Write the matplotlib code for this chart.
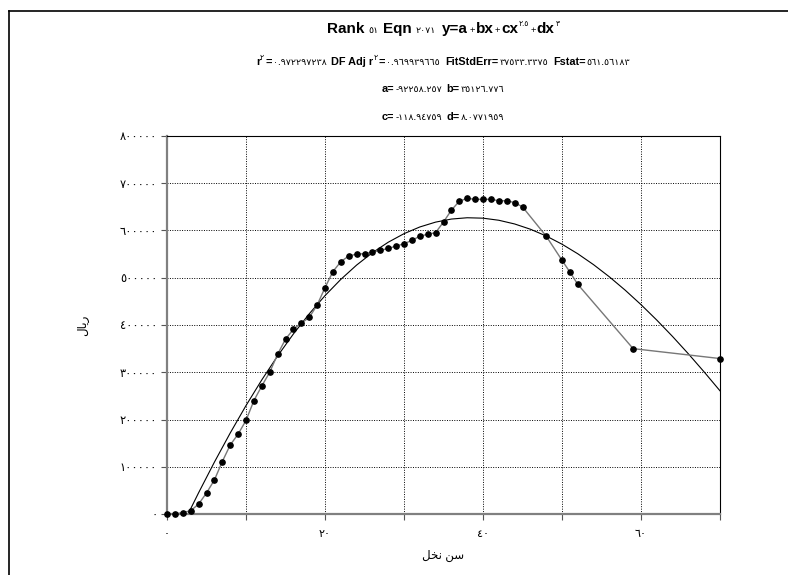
'''Rank 51 curve fit chart: date palm age vs price'''
import matplotlib
matplotlib.use('Agg')
from matplotlib import pyplot as plt
from matplotlib.lines import Line2D

# observed points (age, price)
ages = [0, 1, 2, 3, 4, 5, 6, 7, 8, 9, 10, 11, 12, 13, 14, 15, 16, 17, 18, 19,
        20, 21, 22, 23, 24, 25, 26, 27, 28, 29, 30, 31, 32, 33, 34, 35, 36, 37,
        38, 39, 40, 41, 42, 43, 44, 45, 48, 50, 51, 52, 59, 70]
prices = [0, 0, 3000, 7000, 21000, 44500, 72000, 111000, 146000, 169000,
          198000, 240000, 271000, 300000, 338000, 370000, 391000, 404000,
          416000, 442000, 479000, 513000, 534000, 546000, 550000, 551000,
          554000, 558000, 562000, 567000, 572000, 579000, 588000, 592000,
          595500, 618000, 643000, 662000, 668000, 666000, 666000, 666000,
          663000, 663000, 659000, 650000, 588000, 537000, 512000, 486000,
          350000, 329000]

# fitted curve
fit_ages = [2, 4, 6, 8, 10, 12, 14, 16, 18, 20, 22, 24, 26, 28, 30, 32, 34,
            36, 38, 40, 42, 44, 46, 48, 50, 52, 54, 56, 58, 60, 62, 64, 66,
            68, 70]
fit_prices = [-22600, 44959, 109758, 171359, 229472, 283886, 334448, 381052,
              423624, 462117, 496502, 526796, 552999, 575148, 593276, 607457,
              617740, 624221, 626974, 626088, 621680, 613843, 602712, 588388,
              571010, 550719, 527625, 501901, 473676, 443111, 410354, 375602,
              338950, 300540, 260685]

x_ticks = [0, 10, 20, 30, 40, 50, 60, 70]
x_labels = ['٠', '', '٢٠', '', '٤٠', '', '٦٠', '']
y_ticks = [0, 100000, 200000, 300000, 400000, 500000, 600000, 700000, 800000]
y_labels = ['٠', '١٠٠٠٠٠', '٢٠٠٠٠٠', '٣٠٠٠٠٠', '٤٠٠٠٠٠', '٥٠٠٠٠٠',
            '٦٠٠٠٠٠', '٧٠٠٠٠٠', '٨٠٠٠٠٠']

# Arabic words in visual order with presentation forms (no shaping in mpl)
x_title = '\uFEDE\uFEA8\uFEE7 \uFEE6\uFEB3'   # سن نخل
y_title = '\uFEDD\uFE8E\uFEF3\uFEAD'          # ريال

FAM = ['Liberation Sans', 'DejaVu Sans']
W, H = 788, 575
BIG, MID, DIG, SUP = 11, 7.8, 6.8, 5.5

title_lines = [
    (33, [('Rank', BIG, True, 0, 0), ('٥١', DIG, False, 0, 4),
          ('Eqn', BIG, True, 0, 5), ('٢٠٧١', DIG, False, 0, 4),
          ('y=a', BIG, True, 0, 6), ('+', DIG, False, 0, 1),
          ('bx', BIG, True, 0, 1), ('+', DIG, False, 0, 1),
          ('cx', BIG, True, 0, 1), ('٢.٥', SUP, False, 7, 1),
          ('+', DIG, False, 0, 1), ('dx', BIG, True, 0, 1),
          ('٣', SUP, False, 7, 1)]),
    (65, [('r', MID, True, 0, 0), ('٢', SUP, False, 5, 0),
          ('=', MID, True, 0, 1), ('٠.٩٧٢٢٩٧٢٣٨', DIG, False, 0, 1),
          ('DF Adj r', MID, True, 0, 5), ('٢', SUP, False, 5, 0),
          ('=', MID, True, 0, 1), ('٠.٩٦٩٩٣٩٦٦٥', DIG, False, 0, 1),
          ('FitStdErr=', MID, True, 0, 5), ('٣٧٥٣٣.٣٣٧٥', DIG, False, 0, 1),
          ('Fstat=', MID, True, 0, 5), ('٥٦١.٥٦١٨٣', DIG, False, 0, 1)]),
    (92, [('a=', MID, True, 0, 0), ('-٩٢٢٥٨.٢٥٧', DIG, False, 0, 1),
          ('b=', MID, True, 0, 4), ('٣٥١٢٦.٧٧٦', DIG, False, 0, 1)]),
    (120, [('c=', MID, True, 0, 0), ('-١١٨.٩٤٧٥٩', DIG, False, 0, 1),
           ('d=', MID, True, 0, 4), ('٨.٠٧٧١٩٥٩', DIG, False, 0, 1)]),
]


def text_line(fig, y_px, parts, cx_px):
    '''Lay out mixed-size text pieces on one centred baseline.'''
    rend = fig.canvas.get_renderer()
    arts = []
    total = 0
    for s, size, bold, rise, gap in parts:
        t = fig.text(0, 0, s, fontsize=size, family=FAM,
                     fontweight='bold' if bold else 'normal',
                     ha='left', va='baseline')
        w = t.get_window_extent(rend).width
        arts.append((t, w, rise, gap))
        total += w + gap
    x = cx_px - total / 2
    for t, w, rise, gap in arts:
        x += gap
        t.set_position((x / W, 1 - (y_px - rise) / H))
        x += w


fig = plt.figure(figsize=(W / 100, H / 100), dpi=100)
ax = fig.add_axes([167 / W, 1 - 514 / H, (720 - 167) / W, (514 - 136) / H])

ax.plot(fit_ages, fit_prices, color='black', lw=0.8)
ax.plot(ages, prices, color='#777777', lw=1.0, marker='o', ms=3.8,
        mfc='black', mec='black', clip_on=False, zorder=3)

ax.set_xlim(0, 70)
ax.set_ylim(0, 800000)
ax.set_xticks(x_ticks)
ax.set_xticklabels(x_labels, family=FAM, fontsize=8)
ax.set_yticks(y_ticks)
ax.set_yticklabels(y_labels, family=FAM, fontsize=8.3)
ax.tick_params(axis='y', length=4.5, width=0.8, pad=2.5, color='#555555')
ax.tick_params(axis='x', length=4, width=0.8, pad=7, color='#555555')
ax.grid(True, color='black', linestyle=(0, (1, 1.5)), lw=0.7)

for side in ('top', 'right'):
    ax.spines[side].set_color('black')
    ax.spines[side].set_linewidth(0.8)
for side in ('left', 'bottom'):
    ax.spines[side].set_color('#808080')
    ax.spines[side].set_linewidth(1.6)

ax.set_xlabel(x_title, family=FAM, fontsize=8.5, labelpad=8)
ax.set_ylabel(y_title, family=FAM, fontsize=8.5, labelpad=22)

for y_px, parts in title_lines:
    text_line(fig, y_px, parts, 443)

# page frame around the chart
fig.add_artist(Line2D([9 / W, 1], [1 - 10.5 / H, 1 - 10.5 / H],
                      color='black', lw=1.2))
fig.add_artist(Line2D([9 / W, 9 / W], [0, 1 - 10.5 / H],
                      color='black', lw=1.2))

fig.savefig('out.png', dpi=100)
